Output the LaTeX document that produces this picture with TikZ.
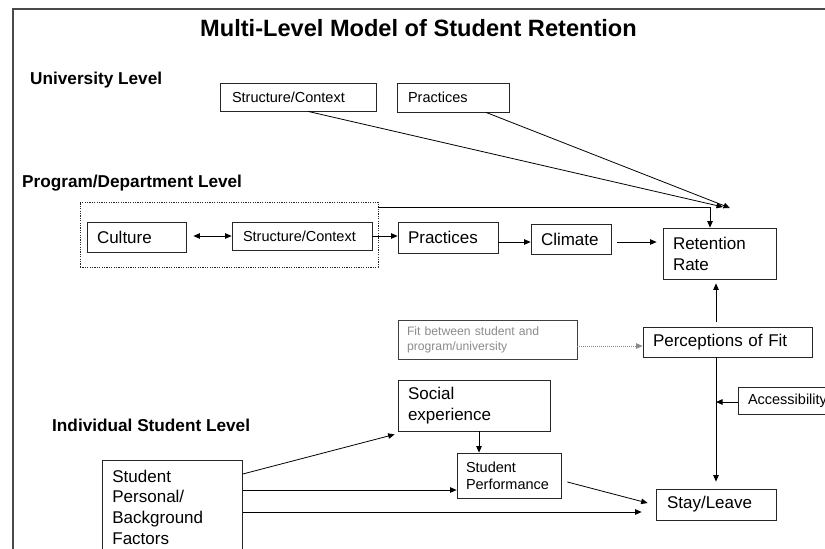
\documentclass[tikz,border=0pt]{standalone}
\usepackage{fontspec}
\setmainfont{Liberation Sans}
\usetikzlibrary{arrows.meta}
\definecolor{framegray}{HTML}{4A4A4A}
\definecolor{boxline}{HTML}{262626}
\definecolor{fittext}{HTML}{8C8C8C}
\definecolor{fitline}{HTML}{8A8A8A}
\begin{document}
\begin{tikzpicture}[x=1pt,y=-1pt,
  box/.style={draw=boxline, line width=0.8pt, inner ysep=0pt, align=left, anchor=center},
  fbig/.style={font=\fontsize{17}{21}\selectfont},
  fmid/.style={font=\fontsize{14.5}{17}\selectfont},
  fsmall/.style={font=\fontsize{12.2}{15}\selectfont},
  lvl/.style={font=\fontsize{17.2}{20}\selectfont\bfseries, anchor=base west, inner sep=0pt},
  tip/.tip={Triangle[length=6.5pt,width=5.5pt]},
  arr/.style={-tip, line width=0.8pt, black},
  darr/.style={tip-tip, line width=0.8pt, black},
  garr/.style={-tip, line width=0.7pt, fitline, dash pattern=on 1pt off 1pt}
]
\clip (0,0) rectangle (825,549);
\fill[white] (0,0) rectangle (825,549);
% outer frame
\draw[line width=2pt, framegray] (13,570) -- (13,9) -- (850,9);

% title and level labels
\node[lvl, font=\fontsize{23.6}{28}\selectfont\bfseries] (title) at (200,36) {Multi-Level Model of Student Retention};
\node[lvl] (ulev) at (30,84) {University Level};
\node[lvl] (plev) at (22,187) {Program/Department Level};
\node[lvl] (ilev) at (52,431) {Individual Student Level};

% university level
\node[box,fmid,minimum height=28pt,text width=132pt,inner xsep=12pt] (usc) at (298,97) {Structure/Context};
\node[box,fmid,minimum height=29pt,text width=90pt,inner xsep=11pt] (upr) at (453,97.5) {Practices};

% program / department level
\node[draw=boxline, line width=0.7pt, dash pattern=on 1.2pt off 1.2pt, minimum width=298pt, minimum height=65pt, inner sep=0pt] (dashbox) at (229,234.5) {};
\node[box,fbig,minimum height=30pt,text width=79pt,inner xsep=10pt] (cult) at (136.5,237) {Culture};
\node[box,fmid,minimum height=28pt,text width=118pt,inner xsep=11pt] (psc) at (302,236) {Structure/Context};
\node[box,fbig,minimum height=31pt,text width=80pt,inner xsep=10pt] (ppr) at (448,237.5) {Practices};
\node[box,fbig,minimum height=30pt,text width=60pt,inner xsep=10pt] (clim) at (571,239) {Climate};
\node[box,fbig,minimum height=51pt,text width=93pt,inner xsep=10pt] (ret) at (719.5,253.5) {Retention\\Rate};

% individual student level
\node[box,fsmall,text=fittext,draw=black!75,minimum height=39pt,text width=161pt,inner xsep=9pt] (fit) at (487.5,339.5) {Fit between student and\\program/university};
\node[box,fbig,minimum height=30pt,text width=149pt,inner xsep=10pt] (perc) at (727.5,342) {Perceptions of Fit};
\node[box,fmid,minimum height=27pt,text width=80pt,inner xsep=10pt] (acc) at (788,400.5) {Accessibility};
\node[box,fbig,minimum height=51pt,text width=132pt,inner xsep=10pt] (soc) at (474,405.5) {Social\\experience};
\node[box,fmid,minimum height=45pt,text width=86pt,inner xsep=9pt] (sp) at (509,475.5) {Student\\Performance};
\node[box,fbig,minimum height=31pt,text width=98pt,inner xsep=11pt] (stay) at (716,504.5) {Stay/Leave};
\node[box,fbig,anchor=north west,text width=120pt,inner xsep=10pt,inner ysep=9.5pt,font=\fontsize{17}{20.7}\selectfont] (spers) at (102,460) {Student\\Personal/\\Background\\Factors};

% university influences on retention
\coordinate (tipA) at (723,207);
\coordinate (tipB) at (730,208);
\draw[arr] ([xshift=10pt]usc.south) -- (tipA);
\draw[arr] ([xshift=33pt]upr.south) -- (tipB);

% program level chain
\draw[arr] ([yshift=-6pt]dashbox.north east) -| ([xshift=-9.5pt]ret.north);
\draw[darr] ([xshift=7pt]cult.east |- psc.west) -- (psc.west);
\draw[arr] (psc.east) -- (psc.east -| ppr.west);
\draw[arr] ([yshift=-4.5pt]ppr.east) -- ([yshift=-4.5pt]ppr.east -| clim.west);
\draw[arr] ([xshift=6pt,yshift=-3pt]clim.east) -- ([xshift=-6pt,yshift=-3pt]clim.east -| ret.west);

% fit and stay/leave
\draw[arr] ([xshift=-11.5pt,yshift=5pt]perc.north) -- ([xshift=-11.5pt,yshift=-4pt]perc.north |- ret.south);
\draw[garr] ([yshift=-6.5pt]fit.east) -- ([yshift=-6.5pt]fit.east -| perc.west);
\draw[arr] ([xshift=-11.5pt]perc.south) -- ([xshift=-11.5pt,yshift=7pt]perc.south |- stay.north);
\draw[arr] ([yshift=-1.5pt]acc.west) -- ([yshift=-1.5pt]acc.west -| stay.north);

% student pathways
\draw[arr] ([xshift=5pt]soc.south) -- ([xshift=5pt]soc.south |- sp.north);
\draw[arr] ([xshift=6pt,yshift=-6.5pt]sp.east) -- ([xshift=-8pt,yshift=1.5pt]stay.west);
\draw[arr] ([yshift=-14pt]spers.north east) -- ([xshift=-3pt,yshift=-3pt]soc.south west);
\draw[arr] ([yshift=-30pt]spers.north east) -- ([yshift=-30pt]spers.north east -| sp.west);
\draw[arr] ([yshift=-52pt]spers.north east) -- ([xshift=-14pt,yshift=-52pt]spers.north east -| stay.west);
\end{tikzpicture}
\end{document}
